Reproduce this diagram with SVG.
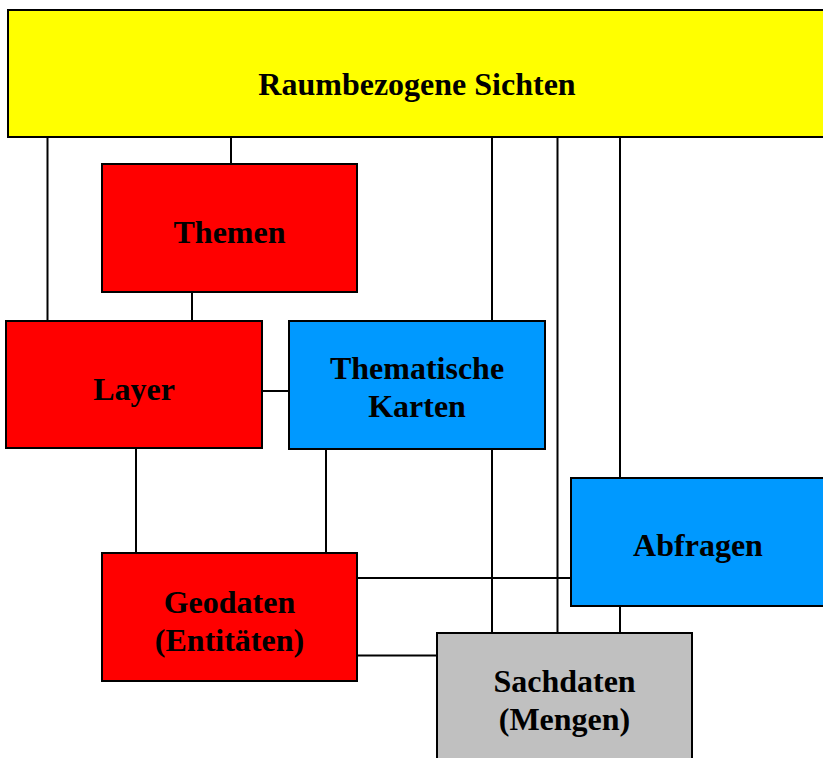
<svg xmlns="http://www.w3.org/2000/svg" width="823" height="758" viewBox="0 0 823 758">
<style>
.box{stroke:#000;stroke-width:2}
.lbl{font-family:"Liberation Serif","Times New Roman",serif;font-weight:bold;font-size:32px;text-anchor:middle;fill:#000}
.conn line{stroke:#000;stroke-width:2}
</style>
<rect width="823" height="758" fill="#fff"/>
<g id="connectors" class="conn">
<line x1="47.5" y1="137" x2="47.5" y2="321"/>
<line x1="231" y1="137" x2="231" y2="164"/>
<line x1="192" y1="292" x2="192" y2="321"/>
<line x1="136" y1="448" x2="136" y2="553"/>
<line x1="262" y1="391" x2="289" y2="391"/>
<line x1="326" y1="449" x2="326" y2="553"/>
<line x1="492" y1="137" x2="492" y2="321"/>
<line x1="492" y1="449" x2="492" y2="633"/>
<line x1="557.5" y1="137" x2="557.5" y2="633"/>
<line x1="620" y1="137" x2="620" y2="478"/>
<line x1="620" y1="606" x2="620" y2="633"/>
<line x1="357" y1="578" x2="571" y2="578"/>
<line x1="357" y1="655.5" x2="437" y2="655.5"/>
</g>
<g id="raumbezogene-sichten">
<rect class="box" x="8" y="10" width="820" height="127" fill="#FFFF00"/>
<text class="lbl" x="417" y="95">Raumbezogene Sichten</text>
</g>
<g id="themen">
<rect class="box" x="102" y="164" width="255" height="128" fill="#FF0000"/>
<text class="lbl" x="229.5" y="243">Themen</text>
</g>
<g id="layer">
<rect class="box" x="6" y="321" width="256" height="127" fill="#FF0000"/>
<text class="lbl" x="134" y="400">Layer</text>
</g>
<g id="thematische-karten">
<rect class="box" x="289" y="321" width="256" height="128" fill="#0099FF"/>
<text class="lbl" x="417" y="379">Thematische</text>
<text class="lbl" x="417" y="417">Karten</text>
</g>
<g id="abfragen">
<rect class="box" x="571" y="478" width="260" height="128" fill="#0099FF"/>
<text class="lbl" x="698" y="556">Abfragen</text>
</g>
<g id="geodaten">
<rect class="box" x="102" y="553" width="255" height="128" fill="#FF0000"/>
<text class="lbl" x="229.5" y="613">Geodaten</text>
<text class="lbl" x="229.5" y="651">(Entitäten)</text>
</g>
<g id="sachdaten">
<rect class="box" x="437" y="633" width="255" height="140" fill="#C0C0C0"/>
<text class="lbl" x="564.5" y="692">Sachdaten</text>
<text class="lbl" x="564.5" y="730">(Mengen)</text>
</g>
</svg>
